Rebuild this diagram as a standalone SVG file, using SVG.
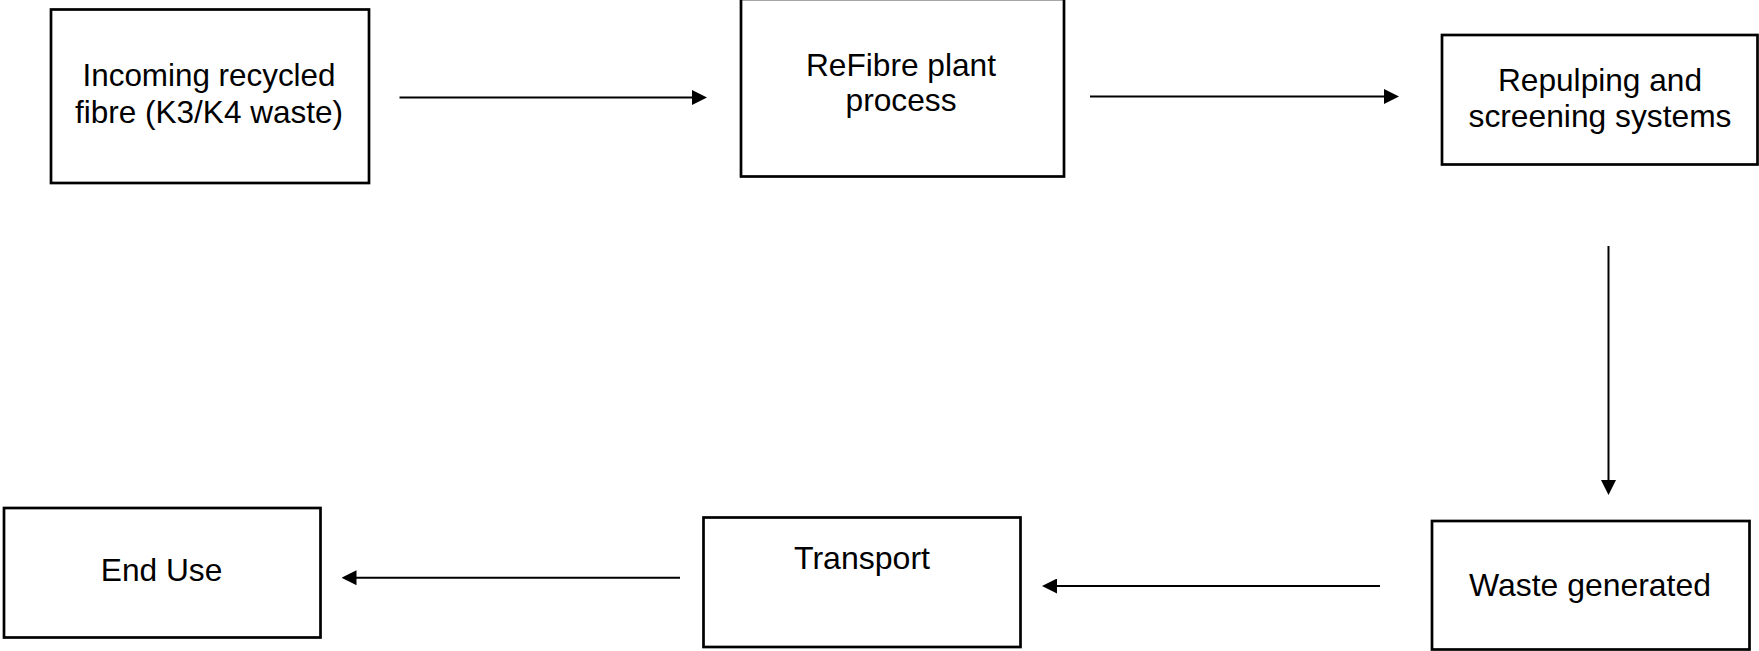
<svg xmlns="http://www.w3.org/2000/svg" width="1759" height="651" viewBox="0 0 1759 651">
  <style>
    .box { fill: #ffffff; stroke: #000000; stroke-width: 2.7; }
    .lbl { font-family: "Liberation Sans", Arial, sans-serif; font-size: 30.5px; fill: #000000; text-anchor: middle; }
    .conn { stroke: #000000; stroke-width: 2; fill: none; marker-end: url(#arrow); }
  </style>
  <defs>
    <marker id="arrow" markerUnits="userSpaceOnUse" markerWidth="15" markerHeight="15" refX="5" refY="7.5" orient="auto">
      <path d="M0,0 L15,7.5 L0,15 z" fill="#000000"/>
    </marker>
  </defs>
  <rect x="0" y="0" width="1759" height="651" fill="#ffffff"/>

  <g id="node-incoming">
    <rect class="box" x="51" y="9.5" width="318" height="173.5"/>
    <text class="lbl" x="209" y="85.5" textLength="253" lengthAdjust="spacingAndGlyphs">Incoming recycled</text>
    <text class="lbl" x="209" y="123" textLength="268" lengthAdjust="spacingAndGlyphs">fibre (K3/K4 waste)</text>
  </g>

  <g id="node-refibre">
    <rect class="box" x="741" y="-1" width="323" height="177.5"/>
    <text class="lbl" x="901" y="75.5" textLength="190" lengthAdjust="spacingAndGlyphs">ReFibre plant</text>
    <text class="lbl" x="901" y="111" textLength="111" lengthAdjust="spacingAndGlyphs">process</text>
  </g>

  <g id="node-repulping">
    <rect class="box" x="1442" y="35" width="315.5" height="129.5"/>
    <text class="lbl" x="1600" y="91" textLength="204" lengthAdjust="spacingAndGlyphs">Repulping and</text>
    <text class="lbl" x="1600" y="127" textLength="263" lengthAdjust="spacingAndGlyphs">screening systems</text>
  </g>

  <g id="node-waste">
    <rect class="box" x="1432" y="521" width="317.5" height="128.5"/>
    <text class="lbl" x="1590" y="596" textLength="242" lengthAdjust="spacingAndGlyphs">Waste generated</text>
  </g>

  <g id="node-transport">
    <rect class="box" x="703.5" y="517.5" width="317" height="129.5"/>
    <text class="lbl" x="862" y="569" textLength="136" lengthAdjust="spacingAndGlyphs">Transport</text>
  </g>

  <g id="node-enduse">
    <rect class="box" x="4" y="508" width="316.5" height="129.5"/>
    <text class="lbl" x="161.5" y="581" textLength="121.5" lengthAdjust="spacingAndGlyphs">End Use</text>
  </g>

  <g id="connectors">
    <line class="conn" x1="399.5" y1="97.5" x2="697" y2="97.5"/>
    <line class="conn" x1="1090" y1="96.5" x2="1389" y2="96.5"/>
    <line class="conn" x1="1608.5" y1="246" x2="1608.5" y2="485"/>
    <line class="conn" x1="1380" y1="586" x2="1052" y2="586"/>
    <line class="conn" x1="680" y1="577.7" x2="351.5" y2="577.7"/>
  </g>
</svg>
